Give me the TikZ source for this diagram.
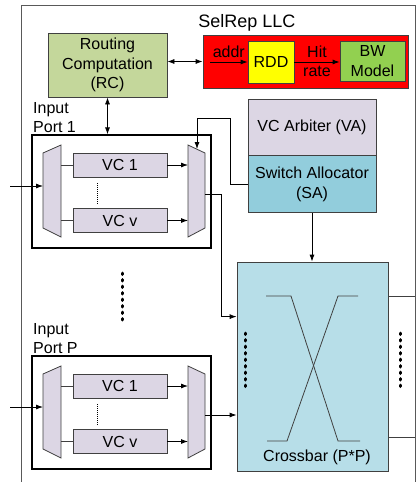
\documentclass[tikz,border=0pt]{standalone}
\usepackage{fontspec}
\setmainfont{Liberation Sans}
\usepackage{xcolor}
\usepackage{tikz}
\usetikzlibrary{arrows.meta, positioning}
\definecolor{rcgreen}{HTML}{C4D79B}
\definecolor{llcred}{HTML}{FF0000}
\definecolor{rddyellow}{HTML}{FFFF00}
\definecolor{bwgreen}{HTML}{92D050}
\definecolor{lavender}{HTML}{DCD6E4}
\definecolor{sablue}{HTML}{92CDDC}
\definecolor{xbarblue}{HTML}{B7DEE8}
\definecolor{edge}{HTML}{404040}

\begin{document}
\begin{tikzpicture}[
  x=1pt, y=-1pt,
  every node/.style={font=\fontsize{16}{19.5}\selectfont, align=center, inner sep=0pt},
  blk/.style={draw=edge, line width=0.8pt},
  vcbox/.style={blk, fill=lavender, minimum width=94, minimum height=24},
  portbox/.style={draw=black, line width=1.2pt, minimum width=179, minimum height=113},
  muxshape/.style={draw=edge, fill=lavender, line width=0.8pt},
  wire/.style={edge, line width=0.8pt},
  arr/.style={-{Latex[length=7pt, width=5pt]}, black, line width=0.8pt},
  dblarr/.style={{Latex[length=7pt, width=5pt]}-{Latex[length=7pt, width=5pt]}, black, line width=0.8pt},
  bigdots/.style={line width=3pt, line cap=round, dash pattern=on 1.5pt off 5pt},
  smalldots/.style={line width=0.8pt, dash pattern=on 1pt off 1pt}
]
\useasboundingbox (0,0) rectangle (417,482);

% outer frame
\draw[gray!70!black, line width=0.9pt] (21,482) |- (415,5) -- (415,482);

% routing and SelRep LLC
\node (title) at (247,23) {\fontsize{18}{22}\selectfont SelRep LLC};
\node[blk, fill=rcgreen, minimum width=119, minimum height=64] (rc) at (107.5,65) {Routing\\Computation\\(RC)};
\node[blk, fill=llcred, minimum width=205, minimum height=53] (llc) at (305.5,61.5) {};
\node[blk, fill=rddyellow, minimum width=46, minimum height=42] (rdd) at (271,62) {RDD};
\node[blk, fill=bwgreen, minimum width=65, minimum height=40] (bw) at (372.5,61) {BW\\Model};
\coordinate (addrin) at (210,62);
\draw[dblarr] (rc.east |- llc.west) -- (llc.west);
\draw[arr] (addrin) -- (rdd.west) node[midway, above=4pt] {addr};
\draw[arr] (rdd.east) -- (rdd.east -| bw.west) node[midway, above=4pt] {Hit} node[midway, below=4pt] {rate};

% allocators and crossbar
\node[blk, fill=lavender, minimum width=128, minimum height=56] (va) at (312,127) {VC Arbiter (VA)};
\node[blk, fill=sablue, minimum width=128, minimum height=57, below=0pt of va] (sa) {Switch Allocator\\(SA)};
\node[blk, fill=xbarblue, minimum width=151, minimum height=209] (xbar) at (312.5,366.5) {};
\node (xlab) at (317,457) {Crossbar (P*P)};
\draw[wire] (266,296) -- (291,296) -- (338,441) -- (360,441);
\draw[wire] (358,296) -- (338,296) -- (287,441) -- (267,441);
\coordinate (out1) at (415,296);
\coordinate (outP) at (415,437);
\draw[wire] (xbar.east |- out1) -- (out1);
\draw[wire] (xbar.east |- outP) -- (outP);
\draw[arr] (sa.south) -- (sa.south |- xbar.north);

% input ports
\foreach \p/\dy in {1/0, P/221}{
  \begin{scope}[shift={(0,\dy)}]
    \node[anchor=west, align=left] (lab\p) at (33,117.5) {Input\\Port \p};
    \node[portbox] (port\p) at (121.5,191.5) {};
    \node[vcbox] (vcA\p) at (120,165) {VC 1};
    \node[vcbox] (vcV\p) at (120,220.5) {VC v};
    \draw[muxshape] (43,153) -- (61,145) -- (61,237) -- (43,228) -- cycle;
    \draw[muxshape] (188,145) -- (205,153) -- (205,228) -- (188,237) -- cycle;
    \coordinate (in\p) at (10,186);
    \coordinate (dmxL\p) at (43,186);
    \coordinate (dmxR\p) at (61,191);
    \coordinate (muxL\p) at (188,191);
    \coordinate (muxT\p) at (197,149);
    \coordinate (muxO\p) at (205,194);
    \draw[smalldots] (97,183) -- (97,205);
    \draw[arr] (in\p) -- (dmxL\p);
    \draw[wire] (dmxR\p |- vcA\p.west) -- (vcA\p.west);
    \draw[wire] (dmxR\p |- vcV\p.west) -- (vcV\p.west);
    \draw[arr] (vcA\p.east) -- (vcA\p.east -| muxL\p);
    \draw[arr] (vcV\p.east) -- (vcV\p.east -| muxL\p);
  \end{scope}
}

\draw[dblarr] (rc.south) -- (rc.south |- port1.north);
\draw[arr] (sa.west) -| ++(-17,-66) -| (muxT1);
\draw[arr] (muxO1) -- ++(16,0) |- ([yshift=-55pt]xbar.north west);
\draw[arr] (muxOP) -- (muxOP -| xbar.west);

% more ports
\draw[bigdots] (122,273) -- (122,320);
\draw[bigdots] (245,333) -- (245,390);
\draw[bigdots] (400,333) -- (400,390);

\end{tikzpicture}
\end{document}
